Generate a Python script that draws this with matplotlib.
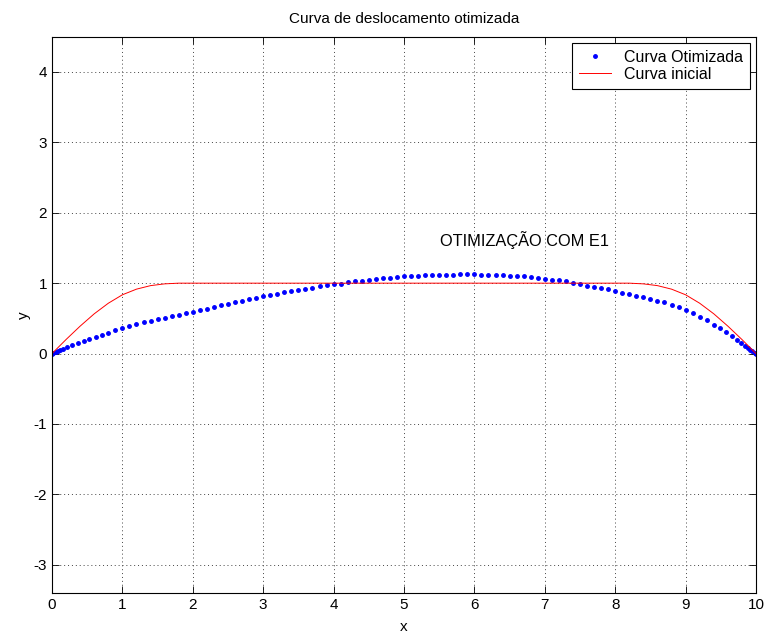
import numpy as np
from matplotlib import pyplot as plt

plt.rcParams['font.family'] = ['Liberation Sans', 'DejaVu Sans']
plt.rcParams['axes.unicode_minus'] = False

# curva otimizada (pontos azuis)
x_otim = [0, 0.02, 0.05, 0.08, 0.11, 0.15, 0.22, 0.29, 0.37, 0.45, 0.53, 0.62, 0.71, 0.80, 0.90, 1.0,
          1.1, 1.2, 1.3, 1.4, 1.5, 1.6, 1.7, 1.8, 1.9, 2.0,
          2.1, 2.2, 2.3, 2.4, 2.5, 2.6, 2.7, 2.8, 2.9, 3.0,
          3.1, 3.2, 3.3, 3.4, 3.5, 3.6, 3.7, 3.8, 3.9, 4.0,
          4.1, 4.2, 4.3, 4.4, 4.5, 4.6, 4.7, 4.8, 4.9, 5.0,
          5.1, 5.2, 5.3, 5.4, 5.5, 5.6, 5.7, 5.8, 5.9, 6.0,
          6.1, 6.2, 6.3, 6.4, 6.5, 6.6, 6.7, 6.8, 6.9, 7.0,
          7.1, 7.2, 7.3, 7.4, 7.5, 7.6, 7.7, 7.8, 7.9, 8.0,
          8.1, 8.2, 8.3, 8.4, 8.5, 8.6, 8.7, 8.8, 8.9, 9.0,
          9.1, 9.2, 9.3, 9.40, 9.49, 9.58, 9.66, 9.73, 9.79, 9.85, 9.89, 9.92, 9.95, 9.98, 10.0]
y_otim = [0, 0.008, 0.02, 0.032, 0.045, 0.061, 0.088, 0.116, 0.147, 0.177, 0.207, 0.238, 0.268, 0.297, 0.328, 0.358,
          0.39, 0.415, 0.445, 0.468, 0.49, 0.51, 0.53, 0.552, 0.574, 0.594,
          0.614, 0.637, 0.66, 0.683, 0.706, 0.727, 0.752, 0.774, 0.795, 0.812,
          0.834, 0.853, 0.872, 0.888, 0.906, 0.918, 0.937, 0.953, 0.97, 0.984,
          0.994, 1.012, 1.024, 1.037, 1.05, 1.058, 1.07, 1.08, 1.089, 1.095,
          1.103, 1.106, 1.112, 1.115, 1.12, 1.122, 1.123, 1.124, 1.124, 1.124,
          1.123, 1.122, 1.12, 1.115, 1.108, 1.1, 1.096, 1.088, 1.079, 1.066,
          1.05, 1.038, 1.024, 0.998, 0.982, 0.96, 0.946, 0.926, 0.91, 0.884,
          0.864, 0.845, 0.822, 0.798, 0.775, 0.75, 0.726, 0.695, 0.662, 0.62,
          0.572, 0.522, 0.47, 0.41, 0.358, 0.307, 0.25, 0.198, 0.151, 0.113, 0.085, 0.057, 0.033, 0.014, 0]

# curva inicial (linha vermelha)
x_ini = [0, 0.2, 0.4, 0.6, 0.8, 1.0, 1.2, 1.4, 1.6, 1.8, 2.0,
         8.0, 8.2, 8.4, 8.6, 8.8, 9.0, 9.2, 9.4, 9.6, 9.8, 10]
y_ini = [0, 0.2, 0.39, 0.565, 0.715, 0.835, 0.915, 0.965, 0.99, 1.0, 1.0,
         1.0, 1.0, 0.99, 0.965, 0.915, 0.835, 0.715, 0.565, 0.39, 0.2, 0]

fig = plt.figure(figsize=(7.67, 6.36), dpi=100)
ax = fig.add_axes([52/767, 43/636, 704/767, 556.3/636])

ax.plot(x_otim, y_otim, 'o', color='b', ms=2.5, mec='b', label='Curva Otimizada')
ax.plot(x_ini, y_ini, '-', color='r', lw=0.7, label='Curva inicial')

ax.set_xlim(0, 10)
ax.set_ylim(-3.4, 4.5)
ax.set_xticks(range(0, 11))
ax.set_yticks(range(-3, 5))
ax.grid(True, color='#444444', linestyle=(0, (1, 3)), linewidth=0.7)
ax.tick_params(direction='in', top=True, right=True, labelsize=11, length=5, width=0.6)
for s in ax.spines.values():
    s.set_linewidth(0.8)

ax.set_title('Curva de deslocamento otimizada', fontsize=11, pad=10)
ax.set_xlabel('x', fontsize=11, labelpad=6)
ax.set_ylabel('y', fontsize=11, labelpad=2)
ax.text(5.51, 1.61, 'OTIMIZAÇÃO COM E1', fontsize=11.8, va='center', ha='left')

leg = ax.legend(loc='upper right', fontsize=11.5, fancybox=False, framealpha=1,
                edgecolor='k', borderpad=0.45, labelspacing=0.1, handlelength=2.0,
                handletextpad=0.8, borderaxespad=0.38)
leg.get_frame().set_linewidth(0.8)

plt.savefig('out.png', dpi=100)
